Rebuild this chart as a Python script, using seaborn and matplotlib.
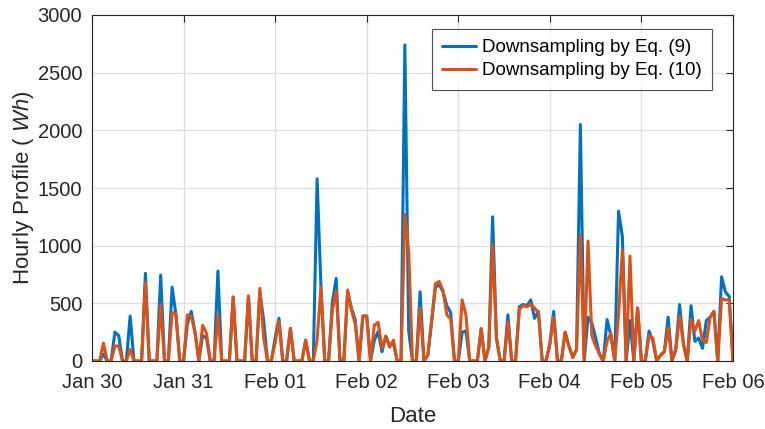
import numpy as np
import pandas as pd
import matplotlib
matplotlib.use("Agg")
import matplotlib.pyplot as plt
import matplotlib.dates as mdates
import seaborn as sns

# ---- data (hourly, Jan 30 00:00 -> Feb 06 00:00) ----
start = "2020-01-30 00:00"
series_names = ["Downsampling by Eq. (9)", "Downsampling by Eq. (10)"]

eq9 = [0, 0, 0, 60, 0, 0, 250, 220, 0, 0, 390, 0, 0, 0, 760, 0, 0, 0, 745, 0,
       0, 640, 400, 0, 0, 320, 430, 250, 0, 220, 200, 0, 0, 780, 0, 0, 0, 555, 0, 0,
       0, 560, 0, 0, 600, 350, 0, 0, 200, 370, 0, 0, 283, 0, 0, 0, 180, 0, 0, 1580,
       650, 0, 0, 510, 717, 0, 0, 600, 460, 355, 0, 390, 390, 0, 180, 255, 80, 215, 135, 150,
       0, 0, 2740, 260, 0, 0, 600, 0, 50, 330, 640, 660, 600, 480, 420, 0, 0, 250, 260, 0,
       0, 0, 280, 0, 120, 1250, 200, 0, 0, 400, 0, 0, 470, 490, 480, 530, 370, 430, 0, 0,
       150, 430, 0, 0, 250, 130, 30, 100, 2050, 0, 380, 330, 200, 60, 0, 360, 220, 0, 1300, 1080,
       0, 350, 0, 460, 0, 0, 260, 170, 0, 50, 80, 380, 0, 100, 490, 150, 0, 480, 170, 200,
       110, 350, 380, 430, 0, 730, 600, 560, 0]

eq10 = [0, 0, 0, 155, 0, 0, 130, 130, 0, 0, 100, 0, 0, 0, 680, 0, 0, 0, 490, 0,
        0, 420, 410, 0, 0, 400, 390, 250, 0, 310, 240, 0, 0, 400, 0, 0, 0, 555, 0, 0,
        0, 565, 0, 0, 630, 200, 0, 0, 160, 345, 0, 0, 283, 0, 0, 0, 180, 0, 0, 180,
        640, 0, 0, 440, 613, 0, 0, 616, 440, 320, 0, 390, 390, 0, 310, 335, 110, 215, 120, 180,
        0, 0, 1270, 950, 0, 0, 460, 0, 50, 350, 670, 690, 610, 400, 365, 0, 0, 530, 400, 0,
        0, 0, 280, 0, 120, 1010, 200, 0, 0, 340, 0, 0, 450, 480, 470, 490, 460, 420, 0, 0,
        150, 380, 0, 0, 250, 130, 30, 100, 1090, 0, 1040, 220, 130, 60, 0, 170, 240, 0, 400, 960,
        0, 910, 0, 460, 0, 0, 220, 200, 0, 50, 80, 290, 0, 100, 390, 150, 0, 360, 260, 350,
        180, 160, 380, 430, 0, 540, 530, 530, 0]

y_ticks = [0, 500, 1000, 1500, 2000, 2500, 3000]

# ---- build long-form table ----
times = pd.date_range(start, periods=len(eq9), freq="h")
df = pd.concat([
    pd.DataFrame({"Date": times, "Value": eq9, "Series": series_names[0]}),
    pd.DataFrame({"Date": times, "Value": eq10, "Series": series_names[1]}),
], ignore_index=True)

sns.set_style("white")
plt.rcParams["font.family"] = ["Liberation Sans", "DejaVu Sans"]
plt.rcParams["mathtext.fontset"] = "custom"
plt.rcParams["mathtext.it"] = "Liberation Sans:italic"
plt.rcParams["mathtext.rm"] = "Liberation Sans"

txt = "#262626"
fig = plt.figure(figsize=(7.65, 4.29), dpi=100)
ax = fig.add_axes([92 / 765, 1 - 361 / 429, 641 / 765, 346 / 429])

sns.lineplot(data=df, x="Date", y="Value", hue="Series",
             palette=["#0072BD", "#D95319"], linewidth=2.2, ax=ax,
             sort=False, estimator=None)

ax.set_xlim(times[0], times[-1])
ax.set_ylim(0, 3000)
ax.set_yticks(y_ticks)
ax.xaxis.set_major_locator(mdates.DayLocator())
ax.xaxis.set_major_formatter(mdates.DateFormatter("%b %d"))

ax.grid(True, color="#dfdfdf", linewidth=0.9)
ax.set_axisbelow(True)
for s in ax.spines.values():
    s.set_color(txt)
    s.set_linewidth(0.8)
ax.tick_params(direction="in", length=5, width=0.8, colors=txt,
               labelsize=14.5, top=True, right=True)
ax.tick_params(axis="x", pad=9)
ax.tick_params(axis="y", pad=7)

ax.set_xlabel("Date", fontsize=16, color=txt, labelpad=10)
ax.set_ylabel(r"Hourly Profile ( $\mathit{Wh}$)", fontsize=16, color=txt, labelpad=1)

handles, labels = ax.get_legend_handles_labels()
leg = ax.legend(handles, labels, loc="upper right",
                bbox_to_anchor=(0.967, 0.96), borderaxespad=0,
                fontsize=13.5, frameon=True, fancybox=False,
                handlelength=1.8, handletextpad=0.3, labelspacing=0.32,
                borderpad=0.55)
leg.get_frame().set_edgecolor(txt)
leg.get_frame().set_linewidth(0.8)
for l in leg.get_lines():
    l.set_linewidth(2.2)
for t in leg.get_texts():
    t.set_color("black")

fig.savefig("out.png", dpi=100)
